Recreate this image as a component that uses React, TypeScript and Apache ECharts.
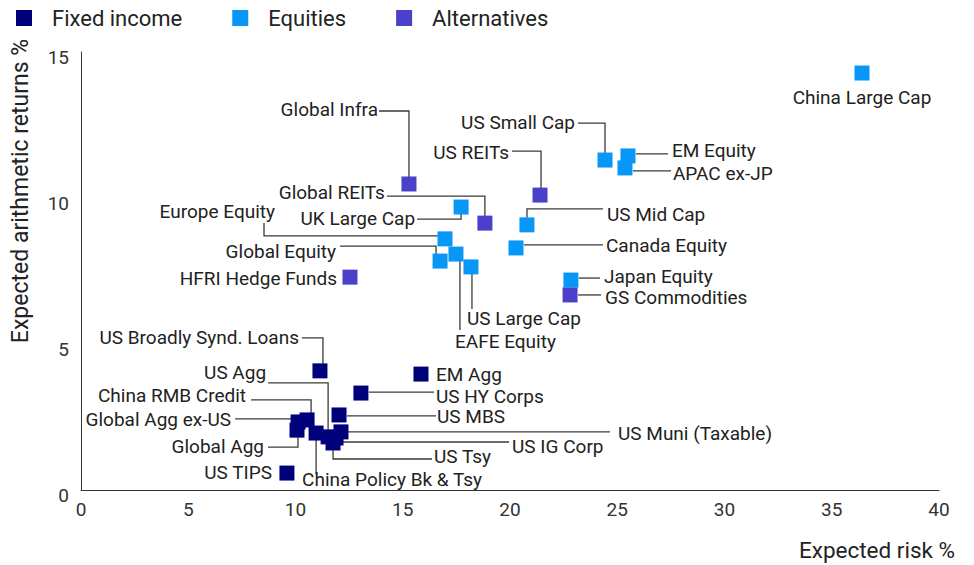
import React, { useEffect, useRef } from "react";
import * as echarts from "echarts";

const categories = ["Fixed income", "Equities", "Alternatives"];
const colors = ["#00007a", "#0797f7", "#4a40c9"];

const fixedNames = [
  "US Broadly Synd. Loans", "EM Agg", "US HY Corps", "US MBS", "US Muni (Taxable)",
  "US IG Corp", "US Tsy", "US Agg", "China Policy Bk & Tsy", "China RMB Credit",
  "Global Agg ex-US", "Global Agg", "US TIPS",
];
const fixedRisk = [11.14, 15.85, 13.05, 12.03, 12.12, 11.89, 11.75, 11.52, 10.96, 10.54, 10.12, 10.07, 9.6];
const fixedReturn = [4.08, 3.97, 3.32, 2.57, 1.99, 1.78, 1.61, 1.82, 1.95, 2.4, 2.33, 2.05, 0.58];

const equityNames = [
  "China Large Cap", "US Small Cap", "EM Equity", "APAC ex-JP", "US Mid Cap",
  "Canada Equity", "Japan Equity", "UK Large Cap", "Europe Equity", "Global Equity",
  "EAFE Equity", "US Large Cap",
];
const equityRisk = [36.41, 24.43, 25.5, 25.36, 20.79, 20.28, 22.84, 17.72, 16.97, 16.74, 17.48, 18.18];
const equityReturn = [14.28, 11.3, 11.44, 11.03, 9.08, 8.29, 7.19, 9.69, 8.6, 7.84, 8.08, 7.64];

const altNames = ["Global Infra", "US REITs", "Global REITs", "HFRI Hedge Funds", "GS Commodities"];
const altRisk = [15.29, 21.4, 18.83, 12.54, 22.8];
const altReturn = [10.48, 10.1, 9.14, 7.29, 6.68];

const xTicks = { min: 0, max: 40, interval: 5 };
const yTicks = { min: 0, max: 15, interval: 5 };

// label placement (pixel offsets from the marker centre) and leader lines
type Lay = { dx: number; dy: number; align: "left" | "right" | "center"; line?: number[][] };
const layouts: Record<string, Lay> = {
  "China Large Cap": { dx: 0, dy: 24, align: "center" },
  "US Small Cap": { dx: -30, dy: -38, align: "right", line: [[-27, -37], [0, -37], [0, -7]] },
  "EM Equity": { dx: 44, dy: -5, align: "left", line: [[8, -2], [40, -2]] },
  "APAC ex-JP": { dx: 48, dy: 6, align: "left", line: [[8, 3], [46, 3]] },
  "US REITs": { dx: -31, dy: -43, align: "right", line: [[-28, -44], [1, -44], [1, -7]] },
  "US Mid Cap": { dx: 80, dy: -10, align: "left", line: [[0, -7], [0, -16], [76, -16]] },
  "Canada Equity": { dx: 90, dy: -2, align: "left", line: [[8, -3], [87, -3]] },
  "Japan Equity": { dx: 33, dy: -4, align: "left", line: [[8, -2], [29, -2]] },
  "GS Commodities": { dx: 35, dy: 3, align: "left", line: [[8, 0], [31, 0]] },
  "Global Infra": { dx: -31, dy: -74, align: "right", line: [[-30, -73], [0, -73], [0, -7]] },
  "Global REITs": { dx: -100, dy: -31, align: "right", line: [[-98, -27], [0, -27], [0, -7]] },
  "UK Large Cap": { dx: -46, dy: 11, align: "right", line: [[-44, 12], [0, 12], [0, 7]] },
  "Europe Equity": { dx: -170, dy: -27, align: "right", line: [[-181, -16], [-181, -3], [-7, -3]] },
  "Global Equity": { dx: -104, dy: -10, align: "right", line: [[-100, -15], [-4, -15], [-4, -7]] },
  "EAFE Equity": { dx: -1, dy: 87, align: "left", line: [[4, 7], [4, 76]] },
  "US Large Cap": { dx: -4, dy: 52, align: "left", line: [[1, 7], [1, 42]] },
  "HFRI Hedge Funds": { dx: -13, dy: 1, align: "right" },
  "US Broadly Synd. Loans": { dx: -21, dy: -33, align: "right", line: [[-18, -33], [3, -33], [3, -7]] },
  "EM Agg": { dx: 15, dy: 0, align: "left" },
  "US HY Corps": { dx: 75, dy: 3, align: "left", line: [[8, -1], [73, -1]] },
  "US MBS": { dx: 98, dy: 2, align: "left", line: [[8, 1], [97, 1]] },
  "US Muni (Taxable)": { dx: 277, dy: 2, align: "left", line: [[7, 0], [269, 0]] },
  "US IG Corp": { dx: 176, dy: 8, align: "left", line: [[7, 4], [173, 4]] },
  "US Tsy": { dx: 101, dy: 14, align: "left", line: [[0, 6], [0, 16], [99, 16]] },
  "US Agg": { dx: -62, dy: -64, align: "right", line: [[-60, -54], [0, -54], [0, -7]] },
  "China Policy Bk & Tsy": { dx: -14, dy: 46, align: "left", line: [[0, 7], [0, 41]] },
  "China RMB Credit": { dx: -61, dy: -24, align: "right", line: [[-56, -20], [4, -20], [4, -7]] },
  "Global Agg ex-US": { dx: -67, dy: -2, align: "right", line: [[-63, -3], [-7, -3]] },
  "Global Agg": { dx: -33, dy: 16, align: "right", line: [[-29, 17], [1, 17], [1, 7]] },
  "US TIPS": { dx: -15, dy: -1, align: "right" },
};

const FONT = "Roboto, 'Noto Sans', sans-serif";

export default function App() {
  const ref = useRef<HTMLDivElement>(null);
  useEffect(() => {
    if (!ref.current) return;
    const chart = echarts.init(ref.current, undefined, { renderer: "svg" });
    const groups = [
      { names: fixedNames, xs: fixedRisk, ys: fixedReturn },
      { names: equityNames, xs: equityRisk, ys: equityReturn },
      { names: altNames, xs: altRisk, ys: altReturn },
    ];
    const allNames: string[] = [];
    const labelData: any[] = [];
    groups.forEach((g) => {
      g.names.forEach((n, i) => {
        allNames.push(n);
        labelData.push([g.xs[i], g.ys[i], allNames.length - 1]);
      });
    });

    const scatterSeries = groups.map((g, gi) => ({
      name: categories[gi],
      type: "scatter",
      symbol: "rect",
      symbolSize: 15,
      z: 3,
      itemStyle: { color: colors[gi], opacity: 1 },
      data: g.names.map((n, i) => ({ name: n, value: [g.xs[i], g.ys[i]] })),
    }));

    const option: any = {
      animation: false,
      backgroundColor: "#ffffff",
      textStyle: { fontFamily: FONT },
      legend: {
        left: 11,
        top: 2,
        data: categories,
        icon: "rect",
        itemWidth: 16,
        itemHeight: 16,
        itemGap: 50,
        textStyle: { fontSize: 22, color: "#222", fontFamily: FONT, padding: [0, 0, 0, 15] },
      },
      grid: { left: 81, right: 35, top: 52, bottom: 75, containLabel: false },
      xAxis: {
        type: "value",
        min: xTicks.min,
        max: xTicks.max,
        interval: xTicks.interval,
        axisLine: { show: true, lineStyle: { color: "#333", width: 1 } },
        axisTick: { show: false },
        splitLine: { show: false },
        axisLabel: { fontSize: 19, color: "#333", margin: 10, fontFamily: FONT },
      },
      yAxis: {
        type: "value",
        min: yTicks.min,
        max: yTicks.max,
        interval: yTicks.interval,
        axisLine: { show: true, lineStyle: { color: "#333", width: 1 } },
        axisTick: { show: false },
        splitLine: { show: false },
        axisLabel: {
          fontSize: 19,
          color: "#333",
          margin: 12,
          fontFamily: FONT,
          verticalAlign: "top",
          lineHeight: 10,
        },
      },
      graphic: [
        {
          type: "text",
          x: 20,
          y: 191,
          rotation: Math.PI / 2,
          style: {
            text: "Expected arithmetic returns %",
            font: `23px ${FONT}`,
            fill: "#222",
            align: "center",
            verticalAlign: "middle",
            textAlign: "center",
            textVerticalAlign: "middle",
          },
        },
        {
          type: "text",
          x: 955,
          y: 550,
          style: {
            text: "Expected risk %",
            font: `22.5px ${FONT}`,
            fill: "#222",
            align: "right",
            verticalAlign: "middle",
            textAlign: "right",
            textVerticalAlign: "middle",
          },
        },
      ],
      series: [
        {
          type: "custom",
          name: "labels",
          z: 2,
          silent: true,
          encode: { x: 0, y: 1 },
          data: labelData,
          renderItem: (params: any, api: any) => {
            const idx = api.value(2);
            const name = allNames[idx];
            const L = layouts[name];
            const p = api.coord([api.value(0), api.value(1)]);
            const children: any[] = [];
            if (L.line) {
              children.push({
                type: "polyline",
                shape: { points: L.line.map((o) => [p[0] + o[0], p[1] + o[1]]) },
                style: { stroke: "#3a3a3a", lineWidth: 1.3, fill: null },
              });
            }
            children.push({
              type: "text",
              x: p[0] + L.dx,
              y: p[1] + L.dy,
              style: {
                text: name,
                font: `19px ${FONT}`,
                fill: "#222",
                align: L.align,
                verticalAlign: "middle",
                textAlign: L.align,
                textVerticalAlign: "middle",
              },
            });
            return { type: "group", children };
          },
        },
        ...scatterSeries,
      ],
    };
    chart.setOption(option);
    return () => chart.dispose();
  }, []);
  return (
    <div
      ref={ref}
      style={{ position: "fixed", left: 0, top: 0, width: 974, height: 565, background: "#fff" }}
    />
  );
}
